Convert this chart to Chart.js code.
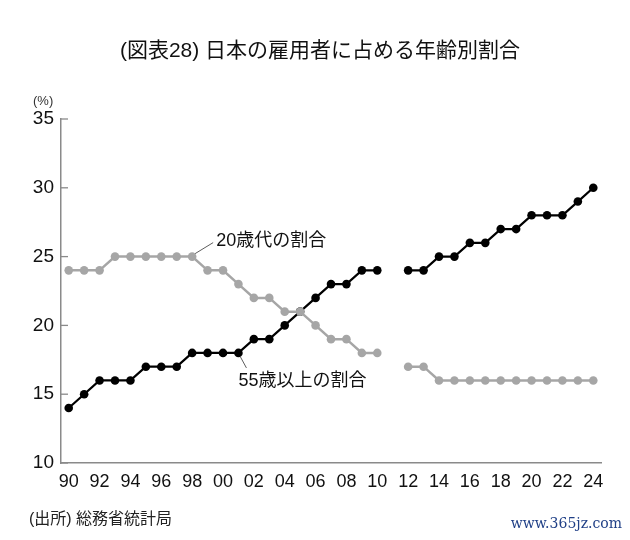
<!DOCTYPE html>
<html>
<head>
<meta charset="utf-8">
<script src="https://cdn.jsdelivr.net/npm/chart.js@4.4.1/dist/chart.umd.min.js"></script>
<style>
html,body{margin:0;padding:0;background:#fff;}
#wrap{width:630px;height:540px;position:relative;}
</style>
</head>
<body>
<div id="wrap"><canvas id="c" width="630" height="540"></canvas></div>
<script>
const years = ['90','91','92','93','94','95','96','97','98','99','00','01','02','03','04','05','06','07','08','09','10','11','12','13','14','15','16','17','18','19','20','21','22','23','24'];
const share55plus = [14,15,16,16,16,17,17,17,18,18,18,18,19,19,20,21,22,23,23,24,24,null,24,24,25,25,26,26,27,27,28,28,28,29,30];
const share20s = [24,24,24,25,25,25,25,25,25,24,24,23,22,22,21,21,20,19,19,18,18,null,17,17,16,16,16,16,16,16,16,16,16,16,16];
const yTicks = [10,15,20,25,30,35];
const titleText = '(図表28) 日本の雇用者に占める年齢別割合';
const unitText = '(%)';
const sourceText = '(出所) 総務省統計局';
const label20s = '20歳代の割合';
const label55 = '55歳以上の割合';
const watermark = 'www.365jz.com';

const LAT = '"Liberation Sans", Arial, "Noto Sans CJK JP", sans-serif';
const CJK = '"Liberation Sans", "Noto Sans CJK JP", sans-serif';
const AXIS = '#8a8a8a';

const decor = {
  id: 'decor',
  afterDraw(chart) {
    const ctx = chart.ctx;
    const x = chart.scales.x, y = chart.scales.y;
    const area = chart.chartArea;
    ctx.save();
    ctx.strokeStyle = AXIS; ctx.lineWidth = 1.3;
    yTicks.forEach(v => {
      const py = y.getPixelForValue(v);
      ctx.beginPath(); ctx.moveTo(area.left, py); ctx.lineTo(area.left + 7, py); ctx.stroke();
    });
    ctx.fillStyle = '#111';
    ctx.textBaseline = 'middle';
    ctx.textAlign = 'center';
    ctx.font = '21px ' + CJK;
    ctx.fillText(titleText, 320, 51);
    ctx.textAlign = 'left';
    ctx.font = '13px ' + CJK;
    ctx.fillStyle = '#333';
    ctx.fillText(unitText, 33, 101);
    ctx.font = '16px ' + CJK;
    ctx.fillStyle = '#222';
    ctx.fillText(sourceText, 29, 520);
    ctx.font = '14px "DejaVu Serif", serif';
    ctx.fillStyle = '#1f3f86';
    ctx.textAlign = 'right';
    ctx.fillText(watermark, 622, 524);
    ctx.strokeStyle = '#333'; ctx.lineWidth = 0.8;
    const ax1 = x.getPixelForValue(8), ay1 = y.getPixelForValue(share20s[8]);
    ctx.beginPath(); ctx.moveTo(ax1 + 3, ay1 - 3); ctx.lineTo(ax1 + 21, ay1 - 14); ctx.stroke();
    ctx.textAlign = 'left';
    ctx.fillStyle = '#111';
    ctx.font = '18px ' + CJK;
    ctx.fillText(label20s, ax1 + 24, ay1 - 16);
    const ax2 = x.getPixelForValue(11), ay2 = y.getPixelForValue(share55plus[11]);
    ctx.beginPath(); ctx.moveTo(ax2 + 2, ay2 + 4); ctx.lineTo(ax2 + 8, ay2 + 15); ctx.stroke();
    ctx.fillText(label55, ax2, ay2 + 28);
    ctx.restore();
  }
};

new Chart(document.getElementById('c'), {
  type: 'line',
  data: {
    labels: years,
    datasets: [
      {
        label: label20s, data: share20s,
        borderColor: '#a6a6a6', backgroundColor: '#a6a6a6',
        pointBackgroundColor: '#a6a6a6', pointBorderColor: '#a6a6a6',
        borderWidth: 2.5, pointRadius: 4.3, pointBorderWidth: 0, spanGaps: false, tension: 0
      },
      {
        label: label55, data: share55plus,
        borderColor: '#000', backgroundColor: '#000',
        pointBackgroundColor: '#000', pointBorderColor: '#000',
        borderWidth: 2.2, pointRadius: 4.3, pointBorderWidth: 0, spanGaps: false, tension: 0
      }
    ]
  },
  options: {
    responsive: false, animation: false,
    layout: { padding: { top: 119, right: 29, bottom: 47, left: 0 } },
    plugins: { legend: { display: false }, tooltip: { enabled: false }, title: { display: false } },
    scales: {
      x: {
        type: 'category', offset: true,
        afterFit(s) { s.height = 30; },
        grid: { display: false, drawTicks: false },
        border: { display: true, color: AXIS, width: 1.5 },
        ticks: {
          autoSkip: false, maxRotation: 0, padding: 8, color: '#111',
          font: { family: LAT, size: 18 },
          callback(v, i) { return i % 2 === 0 ? years[i] : null; }
        }
      },
      y: {
        min: 10, max: 35,
        afterFit(s) { s.width = 61; },
        afterBuildTicks(s) { s.ticks = yTicks.map(v => ({ value: v })); },
        grid: { display: false, drawTicks: false },
        border: { display: true, color: AXIS, width: 1.5 },
        ticks: { padding: 7, color: '#111', font: { family: LAT, size: 19 } }
      }
    }
  },
  plugins: [decor]
});
</script>
</body>
</html>
